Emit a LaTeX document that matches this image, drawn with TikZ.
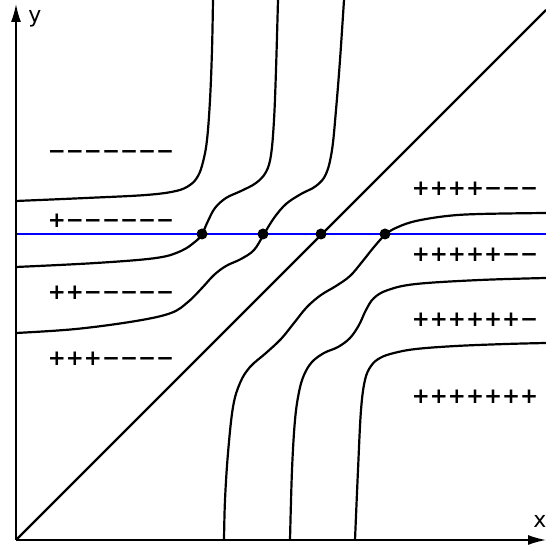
\documentclass[tikz,border=0pt]{standalone}
\usepackage{fontspec}
\setmainfont{DejaVu Sans}
\usetikzlibrary{arrows.meta}
\begin{document}
\begin{tikzpicture}[x=1pt,y=1pt,
  curve/.style={line width=2.2pt, line join=round},
  axisline/.style={line width=1.6pt, -{Latex[length=18pt,width=10pt]}},
  signs/.style={font=\fontsize{21.5}{24}\selectfont\bfseries, inner sep=0pt, anchor=base},
  dotnode/.style={circle, fill=black, inner sep=0pt, minimum size=11pt},
  lbl/.style={font=\fontsize{22}{24}\selectfont, inner sep=0pt}]
\useasboundingbox (-16,-5) rectangle (530,540);
\coordinate (O) at (0,0);
\coordinate (xend) at (530,0);
\coordinate (yend) at (0,536);
\coordinate (dend) at (530,530);
\coordinate (bl) at (0,306);
\coordinate (br) at (530,306);
% curves from the left edge to the top edge
\draw[curve] plot[smooth, tension=0.6] coordinates {(0,339) (70,342) (130,345) (160,349) (174,355) (182,364) (187,378) (191,400) (194,440) (196,490) (197,540)};
\draw[curve] plot[smooth, tension=0.6] coordinates {(0,273) (80,277) (140,282) (165,289) (180,299) (186,306) (192,319) (199,332) (210,342) (225,349) (240,357) (250,368) (255,385) (258,420) (260,470) (262,540)};
\draw[curve] plot[smooth, tension=0.6] coordinates {(0,207) (60,211) (120,219) (155,227) (172,238) (186,252) (198,265) (210,274) (225,281) (238,290) (248,306) (258,322) (270,336) (285,346) (300,354) (310,366) (316,390) (320,430) (324,480) (328,540)};
% curves from the bottom edge to the right edge
\draw[curve] plot[smooth, tension=0.6] coordinates {(208,0) (209,40) (212,87) (217,133) (224,157) (234,173) (250,187) (265,201) (278,217) (291,233) (305,245) (320,254) (334,264) (346,278) (358,293) (370,306) (382,313) (400,319) (431,324) (464,326) (530,327)};
\draw[curve] plot[smooth, tension=0.6] coordinates {(274,0) (276,70) (279,120) (283,148) (288,165) (296,178) (308,187) (322,193) (334,202) (343,215) (350,230) (358,242) (372,250) (400,256) (464,260) (530,262)};
\draw[curve] plot[smooth, tension=0.6] coordinates {(339,0) (342,70) (345,130) (349,160) (355,174) (364,182) (378,187) (400,191) (440,194) (490,196) (530,197)};
\draw[curve] (O) -- (dend);
\draw[blue, line width=2pt] (bl) -- (br);
\draw[axisline] (O) -- (xend);
\draw[axisline] (O) -- (yend);
\node[lbl] (ylab) at (19,521) {y};
\node[lbl] (xlab) at (524,19) {x};
\node[dotnode] (p1) at (186,306) {};
\node[dotnode] (p2) at (247,306) {};
\node[dotnode] (p3) at (305,306) {};
\node[dotnode] (p4) at (369,306) {};
\node[signs] (l1) at (95,381) {−−−−−−−};
\node[signs] (l2) at (95,312) {+−−−−−−};
\node[signs] (l3) at (95,240) {++−−−−−};
\node[signs] (l4) at (95,174) {+++−−−−};
\node[signs] (r1) at (459,344) {++++−−−};
\node[signs] (r2) at (459,278) {+++++−−};
\node[signs] (r3) at (459,213) {++++++−};
\node[signs] (r4) at (459,136) {+++++++};
\end{tikzpicture}
\end{document}
